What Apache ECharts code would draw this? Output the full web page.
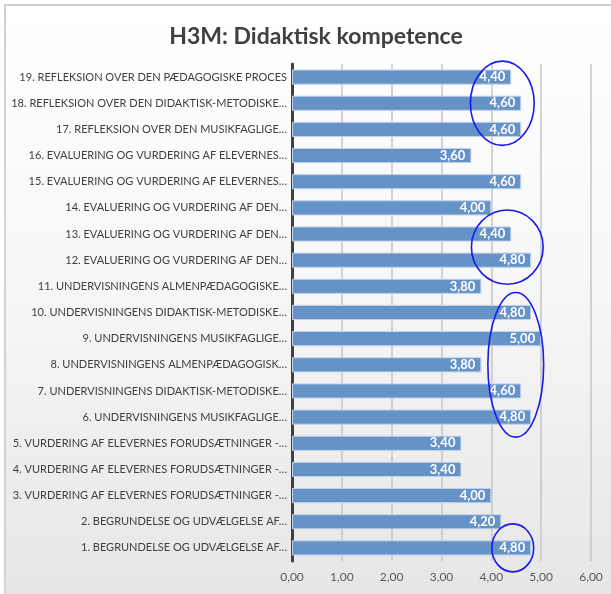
<!DOCTYPE html>
<html>
<head>
<meta charset="utf-8">
<script src="https://cdn.jsdelivr.net/npm/echarts@6/dist/echarts.min.js"></script>
<style>
  html, body { margin: 0; padding: 0; }
  #frame {
    position: absolute; left: 4px; top: 4px; width: 607px; height: 590px;
    border-top: 2px solid #d2d2d2; border-left: 2px solid #d2d2d2;
    background: linear-gradient(#ffffff 0%, #f6f6f6 50%, #e6e6e6 100%);
  }
  #chart { position: absolute; left: 0; top: 0; width: 611px; height: 594px; }
</style>
</head>
<body>
<div id="frame"></div>
<div id="chart"></div>
<script>
// kategorier nedefra og op (1 nederst)
const categories = [
  '1. BEGRUNDELSE OG UDVÆLGELSE AF…',
  '2. BEGRUNDELSE OG UDVÆLGELSE AF…',
  '3. VURDERING AF ELEVERNES FORUDSÆTNINGER -…',
  '4. VURDERING AF ELEVERNES FORUDSÆTNINGER -…',
  '5. VURDERING AF ELEVERNES FORUDSÆTNINGER -…',
  '6. UNDERVISNINGENS MUSIKFAGLIGE…',
  '7. UNDERVISNINGENS DIDAKTISK-METODISKE…',
  '8. UNDERVISNINGENS ALMENPÆDAGOGISK…',
  '9. UNDERVISNINGENS MUSIKFAGLIGE…',
  '10. UNDERVISNINGENS DIDAKTISK-METODISKE…',
  '11. UNDERVISNINGENS ALMENPÆDAGOGISKE…',
  '12. EVALUERING OG VURDERING AF DEN…',
  '13. EVALUERING OG VURDERING AF DEN…',
  '14. EVALUERING OG VURDERING AF DEN…',
  '15. EVALUERING OG VURDERING AF ELEVERNES…',
  '16. EVALUERING OG VURDERING AF ELEVERNES…',
  '17. REFLEKSION OVER DEN MUSIKFAGLIGE…',
  '18. REFLEKSION OVER DEN DIDAKTISK-METODISKE…',
  '19. REFLEKSION OVER DEN PÆDAGOGISKE PROCES'
]
const values = [4.8, 4.2, 4.0, 3.4, 3.4, 4.8, 4.6, 3.8, 5.0, 4.8, 3.8, 4.8, 4.4, 4.0, 4.6, 3.6, 4.6, 4.6, 4.4]

// håndtegnede markeringer: første/sidste kategori, midte og halv bredde i akse-enheder
const circleFrom = [16, 11, 5, 0]
const circleTo = [18, 12, 9, 0]
const circleMid = [4.22, 4.32, 4.49, 4.43]
const circleHalfW = [0.64, 0.72, 0.56, 0.42]

const fmt = v => v.toFixed(2).replace('.', ',')
const FONT = 'Lato, "Open Sans", sans-serif'

const chart = echarts.init(document.getElementById('chart'))

chart.setOption({
  backgroundColor: 'transparent',
  animation: false,
  title: {
    text: 'H3M: Didaktisk kompetence',
    left: 311,
    textAlign: 'center',
    top: 20,
    textStyle: { fontFamily: FONT, fontSize: 23, fontWeight: 'bold', color: '#404040' }
  },
  grid: { left: 292, right: 20, top: 64, bottom: 33, containLabel: false },
  xAxis: {
    type: 'value',
    min: 0,
    max: 6,
    interval: 1,
    axisLine: { show: false },
    axisTick: { show: false },
    splitLine: { lineStyle: { color: '#c6c6c6', width: 1.5 } },
    axisLabel: {
      formatter: fmt,
      color: '#595959',
      fontFamily: FONT,
      fontSize: 12,
      margin: 10
    }
  },
  yAxis: {
    type: 'category',
    data: categories,
    axisLine: { lineStyle: { color: '#404040', width: 3 } },
    axisTick: { show: false },
    axisLabel: {
      color: '#404040',
      fontFamily: FONT,
      fontSize: 11,
      margin: 5
    }
  },
  series: [{
    type: 'bar',
    data: values,
    barCategoryGap: '42%',
    itemStyle: { color: '#6592c7', borderColor: '#c4d4ea', borderWidth: 1 },
    label: {
      show: true,
      position: 'insideRight',
      distance: 6,
      formatter: p => fmt(p.value),
      color: '#ffffff',
      fontFamily: FONT,
      fontWeight: 'bold',
      fontSize: 13
    }
  }]
})

// blå ellipser rundt om de markerede grupper
const ellipses = circleFrom.map((a, k) => {
  const b = circleTo[k]
  const yTop = chart.convertToPixel({ yAxisIndex: 0 }, b)
  const yBottom = chart.convertToPixel({ yAxisIndex: 0 }, a)
  const cx = chart.convertToPixel({ xAxisIndex: 0 }, circleMid[k])
  const x0 = chart.convertToPixel({ xAxisIndex: 0 }, 0)
  const rx = chart.convertToPixel({ xAxisIndex: 0 }, circleHalfW[k]) - x0
  const extra = b - a >= 4 ? 20 : b - a === 2 ? 16 : 24
  return {
    type: 'ellipse',
    shape: { cx: cx, cy: (yTop + yBottom) / 2, rx: rx, ry: (yBottom - yTop) / 2 + extra },
    style: { fill: 'none', stroke: '#1a1aee', lineWidth: 1.6 },
    z: 100
  }
})
chart.setOption({ graphic: ellipses })
</script>
</body>
</html>
